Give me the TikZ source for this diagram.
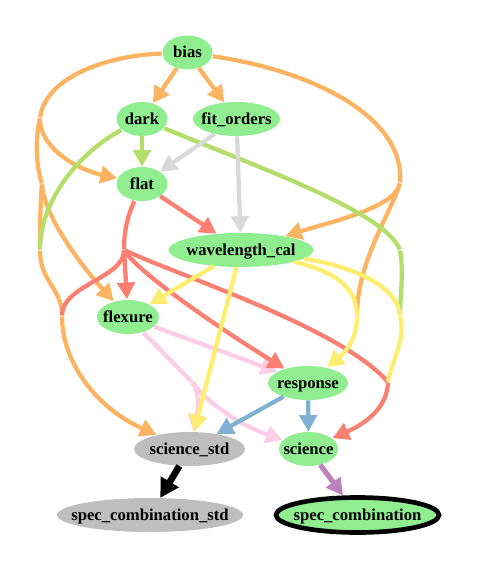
\documentclass[tikz,border=0pt]{standalone}
\usepackage{fontspec}
\setmainfont{Liberation Serif}
\usetikzlibrary{arrows.meta, shapes.geometric}

\definecolor{taskgreen}{HTML}{90EE90}
\definecolor{taskgrey}{HTML}{BEBEBE}
\definecolor{edgeorange}{HTML}{FDB462}
\definecolor{edgered}{HTML}{FB8072}
\definecolor{edgegreen}{HTML}{B3DE69}
\definecolor{edgegrey}{HTML}{D9D9D9}
\definecolor{edgeyellow}{HTML}{FFED6F}
\definecolor{edgepink}{HTML}{FCCDE5}
\definecolor{edgeblue}{HTML}{80B1D3}
\definecolor{edgepurple}{HTML}{BC80BD}

\begin{document}
\begin{tikzpicture}[x=0.75pt, y=-0.75pt,
  task/.style={ellipse, fill=taskgreen, inner sep=0pt, minimum height=25.5pt},
  stdtask/.style={task, fill=taskgrey},
  every label/.style={font=\fontsize{12.5}{14}\selectfont\bfseries, inner sep=0pt, text height=9pt, text depth=1.5pt},
  tip/.style={-{Triangle[length=12.5pt,width=13pt]}},
  flow/.style={line width=3.2pt, tip},
  part/.style={line width=3.2pt, shorten <=0.4pt, shorten >=0.4pt}]
\useasboundingbox (0.000000,0.000000) rectangle (491.000000,568.000000);
\node (bias) at (187.500000,52.500000) [task, minimum width=37.5pt, label=center:bias] {};
\node (dark) at (142.000000,119.000000) [task, minimum width=38.25pt, label=center:dark] {};
\node (fitorders) at (236.500000,119.000000) [task, minimum width=65.25pt, label=center:fit\_orders] {};
\node (flat) at (142.000000,184.000000) [task, minimum width=38.25pt, label=center:flat] {};
\node (wavecal) at (241.000000,250.000000) [task, minimum width=108.75pt, label=center:wavelength\_cal] {};
\node (flexure) at (128.000000,317.000000) [task, minimum width=46.5pt, label=center:flexure] {};
\node (response) at (308.000000,383.000000) [task, minimum width=60pt, label=center:response] {};
\node (sciencestd) at (189.500000,449.000000) [stdtask, minimum width=83.25pt, label=center:science\_std] {};
\node (science) at (308.500000,449.000000) [task, minimum width=44.25pt, label=center:science] {};
\node (speccombstd) at (150.000000,515.000000) [stdtask, minimum width=139.5pt, label=center:spec\_combination\_std] {};
\node (speccomb) at (357.500000,515.000000) [task, draw=black, line width=3.5pt, minimum width=122.25pt, minimum height=26.25pt, label=center:spec\_combination] {};
\coordinate (left1) at (40.000000,118.000000);
\coordinate (left2) at (42.000000,184.000000);
\coordinate (left3) at (40.000000,250.000000);
\coordinate (left4) at (62.000000,316.000000);
\coordinate (right1) at (400.000000,183.000000);
\coordinate (right2) at (400.000000,250.000000);
\coordinate (right3) at (357.000000,316.000000);
\coordinate (right4) at (400.000000,316.000000);
\coordinate (right5) at (388.000000,382.000000);
\coordinate (flatsplit) at (124.000000,250.000000);
\coordinate (flexsplit) at (192.000000,382.000000);
\draw [flow, edgeorange] (bias) -- (dark);
\draw [flow, edgeorange] (bias) -- (fitorders);
\draw [part, edgeorange] (bias) .. controls (100,56) and (45,80) .. (left1);
\draw [part, tip, edgeorange] (left1) .. controls (40,150) and (80,170) .. (flat);
\draw [part, edgeorange] (left1) .. controls (35,140) and (36,165) .. (left2);
\draw [part, tip, edgeorange] (left2) .. controls (44,215) and (78,262) .. (flexure);
\draw [part, edgeorange] (left2) .. controls (40,210) and (40,230) .. (left3);
\draw [part, edgeorange] (left3) .. controls (40,282) and (62,288) .. (left4);
\draw [part, tip, edgeorange] (left4) .. controls (62,365) and (100,410) .. (sciencestd);
\draw [part, edgeorange] (bias) .. controls (320,72) and (405,120) .. (right1);
\draw [part, tip, edgeorange] (right1) .. controls (395,208) and (330,222) .. (wavecal);
\draw [part, edgeorange] (right1) .. controls (390,215) and (357,262) .. (right3);
\draw [flow, edgegreen] (dark) -- (flat);
\draw [part, edgegreen] (dark) .. controls (80,152) and (40,200) .. (left3);
\draw [part, edgegreen] (dark) .. controls (260,168) and (385,212) .. (right2);
\draw [part, edgegreen] (right2) .. controls (404,275) and (400,295) .. (right4);
\draw [flow, edgegrey] (fitorders) -- (flat);
\draw [flow, edgegrey] (fitorders) -- (wavecal);
\draw [flow, edgepink] (flexure) -- (response);
\draw [part, edgepink] (flexure) -- (flexsplit);
\draw [part, tip, edgepink] (flexsplit) .. controls (200,392) and (198,410) .. (sciencestd);
\draw [part, tip, edgepink] (flexsplit) .. controls (210,405) and (240,425) .. (science);
\draw [flow, edgered] (flat) -- (wavecal);
\draw [part, edgered] (flat) .. controls (128,215) and (124,230) .. (flatsplit);
\draw [part, tip, edgered] (flatsplit) -- (flexure);
\draw [part, edgered] (flatsplit) .. controls (124,278) and (62,285) .. (left4);
\draw [part, tip, edgered] (flatsplit) .. controls (140,275) and (230,335) .. (response);
\draw [part, edgered] (flatsplit) .. controls (185,278) and (340,328) .. (right5);
\draw [part, tip, edgered] (right5) .. controls (387,410) and (362,425) .. (science);
\draw [flow, edgeyellow] (wavecal) -- (flexure);
\draw [flow, edgeyellow] (wavecal) -- (sciencestd);
\draw [part, edgeyellow] (wavecal) .. controls (330,270) and (357,285) .. (right3);
\draw [part, tip, edgeyellow] (right3) .. controls (357,342) and (342,355) .. (response);
\draw [part, edgeyellow] (wavecal) .. controls (348,265) and (398,285) .. (right4);
\draw [part, edgeyellow] (right4) .. controls (406,340) and (392,360) .. (right5);
\draw [flow, edgeblue] (response) -- (sciencestd);
\draw [flow, edgeblue] (response) -- (science);
\draw [line width=5pt, -{Triangle[length=14pt,width=15pt]}] (sciencestd) -- (speccombstd);
\draw [flow, line width=3.8pt, edgepurple] (science) -- (speccomb);
\end{tikzpicture}
\end{document}
